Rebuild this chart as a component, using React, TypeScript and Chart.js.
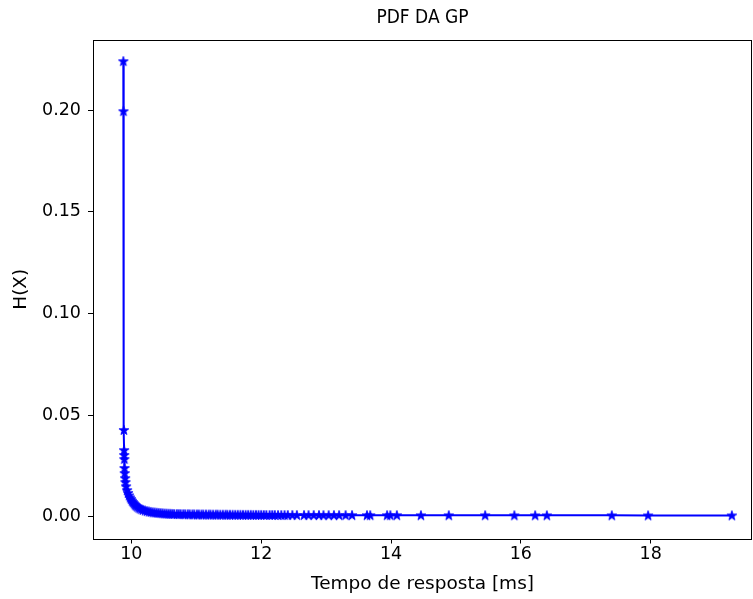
import React, { useEffect, useRef } from 'react';
import { Chart, registerables } from 'chart.js';

Chart.register(...registerables);

// Response time [ms]
const xValues: number[] = [
  9.877, 9.879, 9.886, 9.889, 9.891, 9.893, 9.896, 9.899, 9.905, 9.91,
  9.92, 9.935, 9.95, 9.965, 9.98, 9.995, 10.01, 10.025, 10.04, 10.055,
  10.07, 10.09, 10.11, 10.13, 10.155, 10.18, 10.21, 10.24, 10.27, 10.3,
  10.33, 10.36, 10.39, 10.42, 10.45, 10.48, 10.51, 10.54, 10.57, 10.6,
  10.63, 10.66, 10.7, 10.73, 10.76, 10.8, 10.83, 10.87, 10.9, 10.94,
  10.97, 11.01, 11.04, 11.08, 11.11, 11.15, 11.19, 11.22, 11.26, 11.3,
  11.33, 11.37, 11.41, 11.45, 11.48, 11.52, 11.56, 11.6, 11.64, 11.68,
  11.72, 11.76, 11.8, 11.84, 11.88, 11.92, 11.96, 12.0, 12.04, 12.08,
  12.13, 12.17, 12.21, 12.26, 12.31, 12.36, 12.41, 12.48, 12.55, 12.66,
  12.73, 12.81, 12.89, 12.96, 13.04, 13.12, 13.2, 13.3, 13.4, 13.63,
  13.68, 13.94, 13.99, 14.09, 14.46, 14.89, 15.45, 15.9, 16.22, 16.4,
  17.4, 17.96, 19.25,
];

// H(X)
const yValues: number[] = [
  0.2242, 0.1996, 0.0427, 0.0328, 0.0304, 0.0284, 0.024, 0.0215, 0.019, 0.0171,
  0.015, 0.0131, 0.0117, 0.0105, 0.0095, 0.0087, 0.0079, 0.0072, 0.0066, 0.006,
  0.0055, 0.005, 0.0045, 0.0041, 0.0037, 0.0034, 0.0031, 0.0028, 0.0026, 0.0024,
  0.0022, 0.0021, 0.002, 0.0019, 0.0018, 0.0017, 0.0016, 0.00155, 0.0015, 0.00145,
  0.0014, 0.00138, 0.00135, 0.00132, 0.0013, 0.00128, 0.00126, 0.00124, 0.00122, 0.0012,
  0.00118, 0.00117, 0.00115, 0.00114, 0.00112, 0.00111, 0.0011, 0.00108, 0.00107, 0.00106,
  0.00105, 0.00104, 0.00103, 0.00102, 0.00101, 0.001, 0.00099, 0.00098, 0.00097, 0.00096,
  0.00095, 0.00094, 0.00094, 0.00093, 0.00092, 0.00091, 0.00091, 0.0009, 0.00089, 0.00089,
  0.00088, 0.00087, 0.00087, 0.00086, 0.00086, 0.00085, 0.00085, 0.00084, 0.00083, 0.00082,
  0.00082, 0.00081, 0.00081, 0.0008, 0.0008, 0.00079, 0.00079, 0.00078, 0.00078, 0.00077,
  0.00077, 0.00076, 0.00076, 0.00075, 0.00074, 0.00073, 0.00072, 0.00071, 0.0007, 0.0007,
  0.00068, 0.00067, 0.00065,
];

const xTicks: number[] = [10, 12, 14, 16, 18];
const yTicks: number[] = [0, 0.05, 0.1, 0.15, 0.2];

const FONT = "'DejaVu Sans', sans-serif";
const TITLE_FONT = "'DejaVu Sans Condensed', 'DejaVu Sans', sans-serif";

function makeStar(color: string): HTMLCanvasElement {
  const size = 12;
  const c = document.createElement('canvas');
  c.width = size;
  c.height = size;
  const ctx = c.getContext('2d')!;
  const cx = size / 2;
  const cy = size / 2 + 0.4;
  const R = 5.1;
  const r = R * 0.382;
  ctx.beginPath();
  for (let i = 0; i < 10; i++) {
    const ang = -Math.PI / 2 + (i * Math.PI) / 5;
    const rad = i % 2 === 0 ? R : r;
    const px = cx + rad * Math.cos(ang);
    const py = cy + rad * Math.sin(ang);
    if (i === 0) ctx.moveTo(px, py);
    else ctx.lineTo(px, py);
  }
  ctx.closePath();
  ctx.fillStyle = color;
  ctx.fill();
  ctx.lineWidth = 0.9;
  ctx.strokeStyle = color;
  ctx.stroke();
  return c;
}

const framePlugin = {
  id: 'frame',
  afterDraw(chart: any) {
    const { ctx, chartArea } = chart;
    ctx.save();
    ctx.strokeStyle = '#000';
    ctx.lineWidth = 1;
    ctx.strokeRect(
      Math.round(chartArea.left) + 0.5,
      Math.round(chartArea.top) + 0.5,
      Math.round(chartArea.right - chartArea.left) - 1,
      Math.round(chartArea.bottom - chartArea.top)
    );
    ctx.restore();
  },
};

export default function App() {
  const ref = useRef<HTMLCanvasElement | null>(null);

  useEffect(() => {
    if (!ref.current) return;
    const star = makeStar('#0000ff');
    const tickFont = { family: FONT, size: 17.5 };
    const labelFont = { family: FONT, size: 18.5 };
    const chart = new Chart(ref.current, {
      type: 'line',
      data: {
        datasets: [
          {
            label: 'PDF',
            data: xValues.map((x, i) => ({ x, y: yValues[i] })),
            borderColor: '#0000ff',
            backgroundColor: '#0000ff',
            borderWidth: 2,
            pointStyle: star as any,
            pointRadius: 5,
            tension: 0,
            fill: false,
          },
        ],
      },
      options: {
        responsive: false,
        animation: false,
        devicePixelRatio: 1,
        layout: { autoPadding: false, padding: { left: 0, right: 1, top: 0, bottom: 0 } },
        plugins: {
          legend: { display: false },
          tooltip: { enabled: false },
          title: {
            display: true,
            text: 'PDF DA GP',
            color: '#000',
            fullSize: false,
            font: { family: TITLE_FONT, size: 19, weight: 'normal' as any, lineHeight: 1.2 },
            padding: { top: 6.5, bottom: 10.7 },
          },
        },
        scales: {
          x: {
            type: 'linear',
            min: 9.41,
            max: 19.56,
            afterBuildTicks: (axis: any) => {
              axis.ticks = xTicks.map((v) => ({ value: v }));
            },
            afterFit: (axis: any) => {
              axis.height = 60.5;
              axis.paddingLeft = 0;
              axis.paddingRight = 0;
            },
            border: { display: false },
            grid: {
              drawOnChartArea: false,
              drawTicks: true,
              tickLength: 5,
              tickColor: '#000',
              tickWidth: 1,
            },
            ticks: {
              color: '#000',
              font: tickFont,
              padding: 0,
              maxRotation: 0,
              autoSkip: false,
              callback: (v: any) => String(v),
            },
            title: {
              display: true,
              text: 'Tempo de resposta [ms]',
              color: '#000',
              font: labelFont,
              padding: { top: 0, bottom: 3.5 },
            },
          },
          y: {
            type: 'linear',
            min: -0.0107,
            max: 0.2346,
            afterBuildTicks: (axis: any) => {
              axis.ticks = yTicks.map((v) => ({ value: v }));
            },
            afterFit: (axis: any) => {
              axis.width = 93;
              axis.paddingTop = 0;
              axis.paddingBottom = 0;
            },
            border: { display: false },
            grid: {
              drawOnChartArea: false,
              drawTicks: true,
              tickLength: 5,
              tickColor: '#000',
              tickWidth: 1,
            },
            ticks: {
              color: '#000',
              font: tickFont,
              padding: 7,
              autoSkip: false,
              callback: (v: any) => Number(v).toFixed(2),
            },
            title: {
              display: true,
              text: 'H(X)',
              color: '#000',
              font: labelFont,
              padding: { top: 10, bottom: 0 },
            },
          },
        },
      },
      plugins: [framePlugin],
    });
    return () => chart.destroy();
  }, []);

  return (
    <div style={{ position: 'absolute', left: 0, top: 0, width: 753, height: 599, background: '#fff' }}>
      <canvas ref={ref} width={753} height={599} style={{ display: 'block', width: 753, height: 599 }} />
    </div>
  );
}
